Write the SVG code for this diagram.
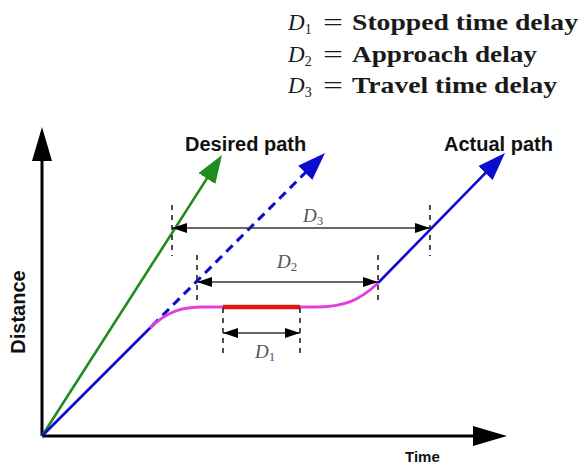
<svg xmlns="http://www.w3.org/2000/svg" width="585" height="466" viewBox="0 0 585 466">
<style>
.axis{stroke:#000;stroke-width:3;fill:none}
.green{stroke:#1f8c1f;stroke-width:2.6;fill:none}
.blue{stroke:#0a0ad0;stroke-width:2.6;fill:none}
.dash{stroke:#0a0ad0;stroke-width:3;fill:none;stroke-dasharray:9 6}
.mag{stroke:#e040e0;stroke-width:3;fill:none}
.red{stroke:#e01515;stroke-width:4.5;fill:none}
.dim{stroke:#333;stroke-width:1.6;fill:none}
.tick{stroke:#222;stroke-width:1.6;fill:none;stroke-dasharray:5 5}
.lbl{font-family:"Liberation Sans",Arial,sans-serif;font-weight:bold;fill:#111}
.leg{font-family:"Liberation Serif","Times New Roman",serif;fill:#1a1a1a}
.dl{font-family:"Liberation Serif","Times New Roman",serif;font-style:italic;fill:#555;font-size:19px}
.sub{font-style:normal;font-size:13px}
</style>
<defs>
<marker id="axh" markerUnits="userSpaceOnUse" markerWidth="34" markerHeight="20" refX="24" refY="10" orient="auto"><path d="M0,0 L34,10 L0,20 z" fill="#000"/></marker>
<marker id="gh" markerUnits="userSpaceOnUse" markerWidth="28" markerHeight="20" refX="18" refY="10" orient="auto"><path d="M0,0 L28,10 L0,20 z" fill="#1f8c1f"/></marker>
<marker id="bh" markerUnits="userSpaceOnUse" markerWidth="28" markerHeight="20" refX="18" refY="10" orient="auto"><path d="M0,0 L28,10 L0,20 z" fill="#0a0ad0"/></marker>
<marker id="dh" markerUnits="userSpaceOnUse" markerWidth="15" markerHeight="10" refX="15" refY="5" orient="auto-start-reverse"><path d="M0,0 L15,5 L0,10 z" fill="#000"/></marker>
</defs>

<g id="legend" class="leg">
<text x="288" y="30" font-size="23"><tspan font-style="italic">D</tspan><tspan font-size="14" dy="4">1</tspan></text>
<text x="323" y="30" font-size="23" textLength="20" lengthAdjust="spacingAndGlyphs">=</text>
<text x="352" y="30" font-size="23" font-weight="bold" textLength="226" lengthAdjust="spacingAndGlyphs">Stopped time delay</text>
<text x="288" y="62" font-size="23"><tspan font-style="italic">D</tspan><tspan font-size="14" dy="4">2</tspan></text>
<text x="323" y="62" font-size="23" textLength="20" lengthAdjust="spacingAndGlyphs">=</text>
<text x="352" y="62" font-size="23" font-weight="bold" textLength="185" lengthAdjust="spacingAndGlyphs">Approach delay</text>
<text x="288" y="93" font-size="23"><tspan font-style="italic">D</tspan><tspan font-size="14" dy="4">3</tspan></text>
<text x="323" y="93" font-size="23" textLength="20" lengthAdjust="spacingAndGlyphs">=</text>
<text x="352" y="93" font-size="23" font-weight="bold" textLength="205" lengthAdjust="spacingAndGlyphs">Travel time delay</text>
</g>

<g id="axes">
<path class="axis" d="M42,436 L42,137" marker-end="url(#axh)"/>
<path class="axis" d="M42,436 L497,436" marker-end="url(#axh)"/>
<text class="lbl" font-size="20" transform="translate(25,312) rotate(-90)" text-anchor="middle">Distance</text>
<text class="lbl" x="405" y="462" font-size="15" fill="#222">Time</text>
</g>

<g id="connectors">
<path class="green" d="M42,436 L216.6,163.4" marker-end="url(#gh)"/>
<path class="blue" d="M42,436 L152,326"/>
<path class="dash" d="M152,326 L317.9,160.1" marker-end="url(#bh)"/>
<path class="blue" d="M378,283 L498,160.2" marker-end="url(#bh)"/>
<path class="mag" d="M150,328 C168,310 185,306.5 205,307 L315,307 C345,307 360,300 378,283"/>
<path class="red" d="M223,307 L300,307"/>
</g>

<g id="desired-path"><text class="lbl" x="185" y="151" font-size="20">Desired path</text></g>
<g id="actual-path"><text class="lbl" x="444" y="151" font-size="20">Actual path</text></g>

<g id="dims">
<path class="tick" d="M172,205 L172,256"/>
<path class="tick" d="M430,205 L430,256"/>
<path class="tick" d="M197,255 L197,303"/>
<path class="tick" d="M378,255 L378,303"/>
<path class="tick" d="M223,308 L223,358"/>
<path class="tick" d="M300,308 L300,358"/>
<path class="dim" d="M172,228 L430,228" marker-start="url(#dh)" marker-end="url(#dh)"/>
<path class="dim" d="M197,282 L378,282" marker-start="url(#dh)" marker-end="url(#dh)"/>
<path class="dim" d="M223,333 L300,333" marker-start="url(#dh)" marker-end="url(#dh)"/>
<text class="dl" x="303" y="222">D<tspan class="sub" dy="3">3</tspan></text>
<text class="dl" x="277" y="268">D<tspan class="sub" dy="3">2</tspan></text>
<text class="dl" x="255" y="358">D<tspan class="sub" dy="3">1</tspan></text>
</g>
</svg>
